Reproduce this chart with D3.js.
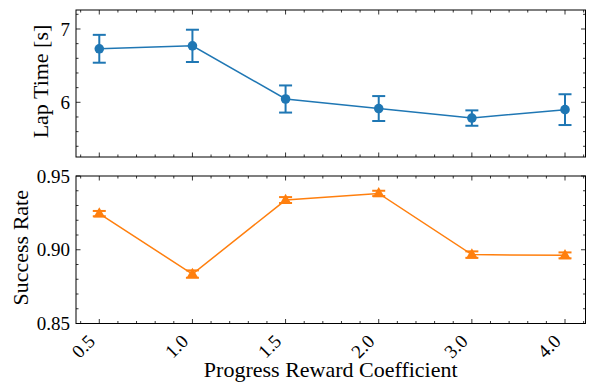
<!DOCTYPE html>
<html>
<head>
<meta charset="utf-8">
<script src="https://cdn.jsdelivr.net/npm/d3@7"></script>
<style>
body { margin: 0; background: #fff; }
svg text { font-family: "Liberation Serif", "Times New Roman", serif; fill: #000; }
</style>
</head>
<body>
<svg id="chart" width="589" height="383"></svg>
<script>
var coefs = ["0.5", "1.0", "1.5", "2.0", "3.0", "4.0"];
var lapMean = [6.73, 6.77, 6.045, 5.915, 5.785, 5.90];
var lapErr = [0.19, 0.22, 0.185, 0.17, 0.105, 0.21];
var succMean = [0.9245, 0.8835, 0.9337, 0.9382, 0.8967, 0.8962];
var succErr = [0.0018, 0.0025, 0.0020, 0.0018, 0.0022, 0.0020];

var width = 589,
    height = 383,
    left = 76,
    right = 585.5;

var svg = d3.select("#chart");

var xScale = d3.scaleLinear()
    .domain([-0.25, 5.22])
    .range([left, right]);

var xMinor = d3.range(-1, 27).map(function(i) { return i * 0.2; })
    .filter(function(v) { return v > -0.25 && v < 5.22; });

var panels = [
    {top: 10, bottom: 157, domain: [5.254, 7.259], major: [6, 7], minorStep: 0.2,
     fmt: d3.format("d"), mean: lapMean, err: lapErr, color: "#1f77b4",
     marker: "circle", title: "Lap Time [s]", titleX: 48, showX: false},
    {top: 176, bottom: 323.5, domain: [0.85, 0.95], major: [0.85, 0.90, 0.95], minorStep: 0.01,
     fmt: d3.format(".2f"), mean: succMean, err: succErr, color: "#ff7f0e",
     marker: "triangle", title: "Success Rate", titleX: 28, showX: true}
];

panels.forEach(function(p) {
    var yScale = d3.scaleLinear().domain(p.domain).range([p.bottom, p.top]);
    var g = svg.append("g");

    var yMinor = d3.range(Math.ceil(p.domain[0] / p.minorStep), Math.floor(p.domain[1] / p.minorStep) + 1)
        .map(function(i) { return +(i * p.minorStep).toFixed(4); });

    // frame
    g.append("rect")
        .attr("x", left).attr("y", p.top)
        .attr("width", right - left).attr("height", p.bottom - p.top)
        .attr("fill", "none").attr("stroke", "#000").attr("stroke-width", 1);

    // inward ticks on all four sides
    var tickG = g.append("g").attr("stroke", "#000").attr("stroke-width", 0.8);
    xMinor.forEach(function(v) {
        var isMajor = Math.abs(v - Math.round(v)) < 1e-6 && v >= 0 && v <= 5;
        var len = isMajor ? 4.5 : 2.5;
        var x = xScale(v);
        tickG.append("line").attr("x1", x).attr("x2", x).attr("y1", p.bottom).attr("y2", p.bottom - len);
        tickG.append("line").attr("x1", x).attr("x2", x).attr("y1", p.top).attr("y2", p.top + len);
    });
    yMinor.forEach(function(v) {
        var isMajor = p.major.some(function(m) { return Math.abs(m - v) < 1e-6; });
        var len = isMajor ? 4.5 : 2.5;
        var y = yScale(v);
        tickG.append("line").attr("x1", left).attr("x2", left + len).attr("y1", y).attr("y2", y);
        tickG.append("line").attr("x1", right).attr("x2", right - len).attr("y1", y).attr("y2", y);
    });

    // y tick labels
    g.selectAll(".ylab").data(p.major).enter().append("text")
        .attr("x", left - 6)
        .attr("y", function(d) { return yScale(d); })
        .attr("dy", "0.35em")
        .attr("text-anchor", "end")
        .attr("font-size", 19)
        .text(function(d) { return p.fmt(d); });

    // y title
    g.append("text")
        .attr("transform", "translate(" + p.titleX + "," + ((p.top + p.bottom) / 2 - 2) + ") rotate(-90)")
        .attr("text-anchor", "middle")
        .attr("font-size", 22)
        .text(p.title);

    var pts = p.mean.map(function(m, i) { return {i: i, m: m, e: p.err[i]}; });

    var line = d3.line()
        .x(function(d) { return xScale(d.i); })
        .y(function(d) { return yScale(d.m); });

    g.append("path")
        .datum(pts)
        .attr("d", line)
        .attr("fill", "none")
        .attr("stroke", p.color)
        .attr("stroke-width", 1.5);

    var eb = g.selectAll(".eb").data(pts).enter().append("g").attr("stroke", p.color).attr("stroke-width", 2);
    eb.append("line")
        .attr("x1", function(d) { return xScale(d.i); })
        .attr("x2", function(d) { return xScale(d.i); })
        .attr("y1", function(d) { return yScale(d.m - d.e); })
        .attr("y2", function(d) { return yScale(d.m + d.e); });
    [-1, 1].forEach(function(s) {
        eb.append("line")
            .attr("x1", function(d) { return xScale(d.i) - 6.5; })
            .attr("x2", function(d) { return xScale(d.i) + 6.5; })
            .attr("y1", function(d) { return yScale(d.m + s * d.e); })
            .attr("y2", function(d) { return yScale(d.m + s * d.e); });
    });

    var sym = p.marker === "circle" ? d3.symbolCircle : d3.symbolTriangle;
    var size = p.marker === "circle" ? 72 : 60;
    g.selectAll(".mk").data(pts).enter().append("path")
        .attr("d", d3.symbol().type(sym).size(size))
        .attr("transform", function(d) {
            return "translate(" + xScale(d.i) + "," + (yScale(d.m) + (p.marker === "triangle" ? 0.5 : 0)) + ")";
        })
        .attr("fill", p.color);

    if (p.showX) {
        g.selectAll(".xlab").data(coefs).enter().append("text")
            .attr("transform", function(d, i) {
                return "translate(" + (xScale(i) - 3) + "," + (p.bottom + 19) + ") rotate(-45)";
            })
            .attr("text-anchor", "end")
            .attr("font-size", 19)
            .text(function(d) { return d; });

        svg.append("text")
            .attr("x", (left + right) / 2)
            .attr("y", 377)
            .attr("text-anchor", "middle")
            .attr("font-size", 22)
            .text("Progress Reward Coefficient");
    }
});
</script>
</body>
</html>
